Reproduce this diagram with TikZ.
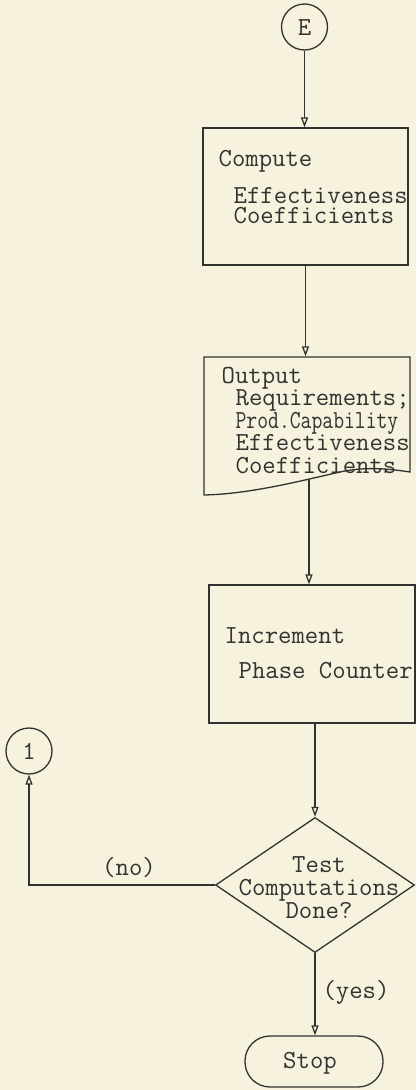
\documentclass[tikz,border=0pt]{standalone}
\usetikzlibrary{arrows.meta,shapes.geometric}
\definecolor{paper}{RGB}{246,242,222}
\definecolor{ink}{RGB}{50,50,48}
\begin{document}
\begin{tikzpicture}[x=1pt,y=-1pt,
  line width=1.3pt, draw=ink,
  every node/.style={font=\fontsize{26}{28}\ttfamily, text=ink},
  flow/.style={draw=ink, line width=1.3pt, -{Triangle[open,length=10pt,width=7pt]}},
  procbox/.style={draw=ink, rectangle, inner sep=0pt},
  conn/.style={draw=ink, circle, inner sep=0pt, minimum size=46pt},
  txt/.style={inner sep=0pt, anchor=base west},
  ctxt/.style={inner sep=0pt, anchor=base},
  decision/.style={draw=ink, diamond, inner sep=0pt, minimum width=199pt, minimum height=135pt},
  terminal/.style={draw=ink, rectangle, rounded corners=25pt, inner sep=0pt, minimum width=138pt, minimum height=51pt}]

% page background
\fill[paper] (0,0) rectangle (416,1090);
\useasboundingbox (0,0) rectangle (416,1090);

% connector E
\node[conn] (E) at (304.5,27) {};
\node[ctxt] (Elab) at (304.5,35) {E};

% compute box (multi-line nodes are placed by the baseline of their last line)
\node[procbox, minimum width=205pt, minimum height=137pt] (comp) at (305.5,196.5) {};
\node[txt] (c1) at (218,166) {Compute};
\node[txt, align=left, font=\fontsize{26}{20}\ttfamily] (c2) at (233,223)
  {Effectiveness\\Coefficients};

% output document
\node[inner sep=0pt, minimum width=206pt, minimum height=115pt] (out) at (307,414.5) {};
\draw[ink] (204,357) -- (410,357) -- (410,472)
  .. controls (385,468) and (362,467) .. (340,472)
  .. controls (300,481) and (250,494) .. (204,495) -- cycle;
\coordinate (outbot) at (309,479);
\node[txt] (o1) at (221,383) {Output};
\node[txt, align=left, font=\fontsize{26}{22.4}\ttfamily] (o2) at (235,473)
  {Requirements;\\\scalebox{0.81}[1]{Prod.Capability}\\Effectiveness\\Coefficients};

% increment box
\node[procbox, minimum width=206pt, minimum height=138pt] (inc) at (312,654) {};
\node[txt] (i1) at (224,643) {Increment};
\node[txt] (i2) at (238,678) {Phase Counter};

% decision
\node[decision] (dec) at (315,885) {};
\node[ctxt, align=center, font=\fontsize{26}{23}\ttfamily] (d1) at (319,918)
  {Test\\Computations\\Done?};

% connector 1
\node[conn] (one) at (29,751) {};
\node[ctxt] (onelab) at (29,759) {1};

% stop
\node[terminal] (stop) at (314,1061.5) {};
\node[ctxt] (stoplab) at (310,1068) {Stop};

% labels
\node[ctxt] (no) at (129,875) {(no)};
\node[ctxt] (yes) at (356,998) {(yes)};

% flow lines
\draw[flow] (E.south) -- (E.south |- comp.north);
\draw[flow] (comp.south) -- (comp.south |- out.north);
\draw[flow] (outbot) -- (outbot |- inc.north);
\draw[flow] (dec.north |- inc.south) -- (dec.north);
\draw[flow] (dec.west) -| (one.south);
\draw[flow] (dec.south) -- (dec.south |- stop.north);
\end{tikzpicture}
\end{document}
